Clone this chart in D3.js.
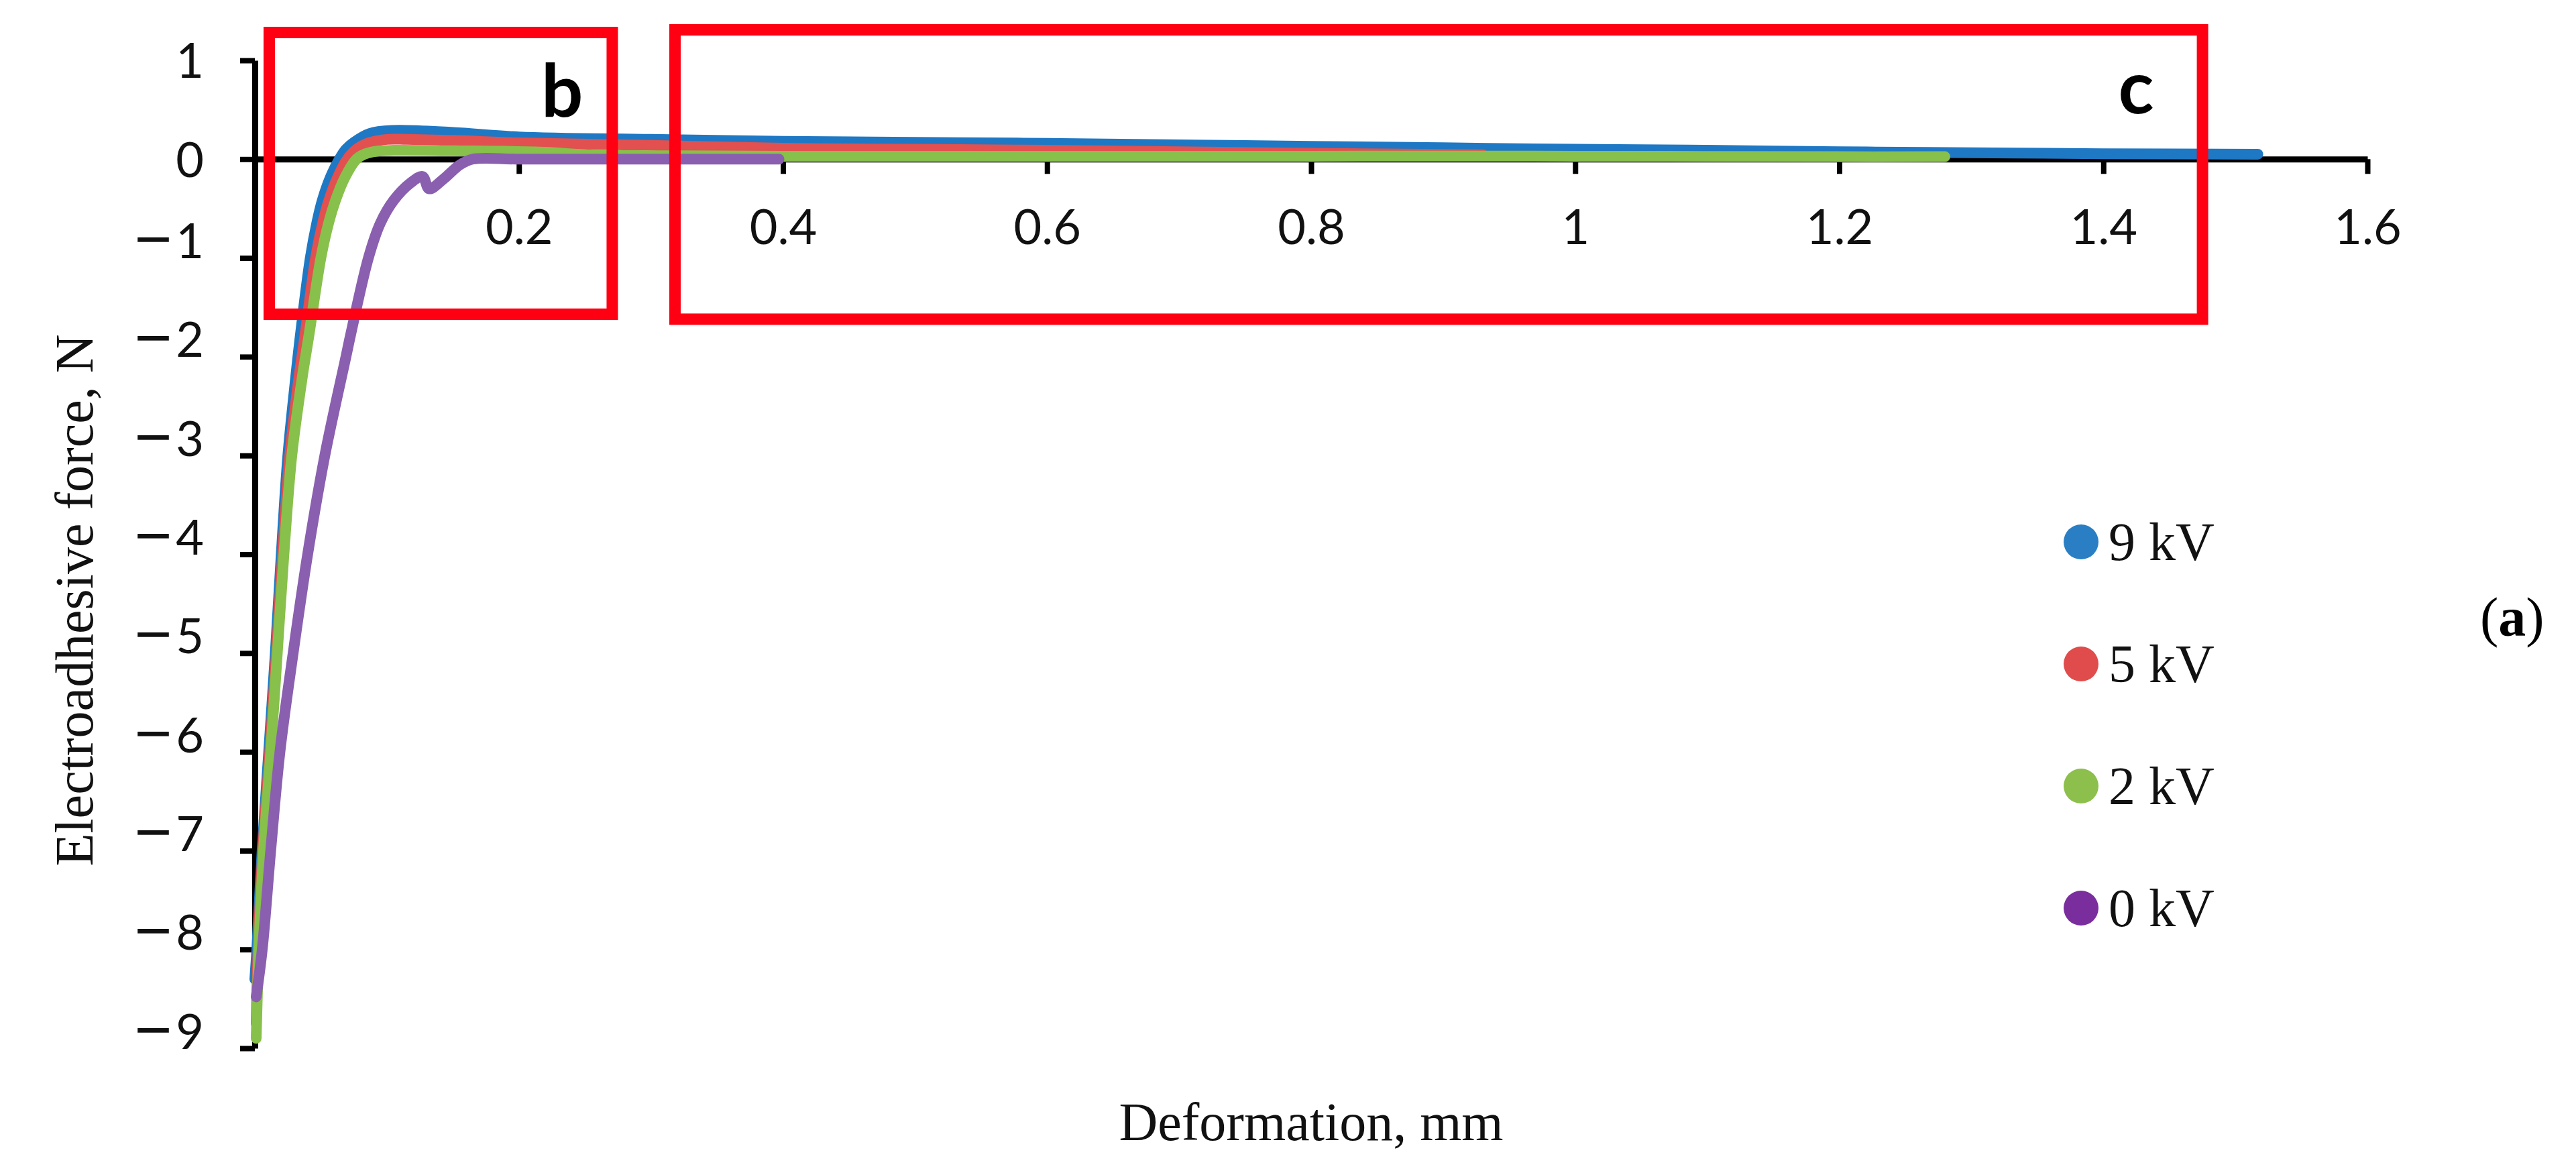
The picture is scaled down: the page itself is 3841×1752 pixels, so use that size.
<!DOCTYPE html>
<html>
<head>
<meta charset="utf-8">
<script src="https://cdn.jsdelivr.net/npm/d3@7"></script>
<style>
  html, body { margin: 0; padding: 0; background: #ffffff; }
  svg { display: block; }
</style>
</head>
<body>
<script>
// ---------------- DATA ----------------
const seriesNames = ["9 kV", "5 kV", "2 kV", "0 kV"];
const xTicks = [0.2, 0.4, 0.6, 0.8, 1, 1.2, 1.4, 1.6];
const yTicks = [1, 0, -1, -2, -3, -4, -5, -6, -7, -8, -9];

// 9 kV
const def9   = [0.000, 0.0015, 0.0055, 0.0105, 0.0155, 0.020, 0.025, 0.031, 0.0345, 0.042, 0.047, 0.051, 0.057, 0.064, 0.069, 0.075, 0.087, 0.104, 0.150, 0.200, 0.300, 0.400, 0.500, 0.600, 0.700, 0.800, 0.900, 1.000, 1.100, 1.200, 1.300, 1.400, 1.517];
const force9 = [-8.30, -8.00, -7.00, -6.00, -5.00, -4.00, -3.00, -2.20, -1.78, -1.00, -0.64, -0.42, -0.19, 0.00, 0.10, 0.17, 0.26, 0.29, 0.27, 0.225, 0.20, 0.18, 0.17, 0.16, 0.145, 0.13, 0.115, 0.10, 0.09, 0.075, 0.065, 0.055, 0.05];
// 5 kV
const def5   = [0.001, 0.0025, 0.006, 0.0113, 0.0163, 0.021, 0.0265, 0.0335, 0.038, 0.046, 0.0515, 0.056, 0.0625, 0.070, 0.077, 0.085, 0.100, 0.115, 0.150, 0.200, 0.300, 0.400, 0.500, 0.600, 0.700, 0.800, 0.930];
const force5 = [-8.75, -8.00, -7.00, -6.00, -5.00, -4.00, -3.00, -2.20, -1.78, -1.00, -0.64, -0.42, -0.19, 0.00, 0.10, 0.16, 0.20, 0.20, 0.19, 0.165, 0.14, 0.11, 0.10, 0.09, 0.075, 0.06, 0.045];
// 2 kV
const def2   = [0.001, 0.003, 0.0066, 0.012, 0.017, 0.022, 0.028, 0.036, 0.041, 0.050, 0.056, 0.061, 0.068, 0.077, 0.083, 0.092, 0.105, 0.150, 0.220, 0.250, 0.300, 0.400, 0.600, 0.800, 1.000, 1.200, 1.280];
const force2 = [-8.90, -8.00, -7.00, -6.00, -5.00, -4.00, -3.00, -2.20, -1.78, -1.00, -0.64, -0.42, -0.19, 0.00, 0.05, 0.08, 0.09, 0.085, 0.07, 0.045, 0.035, 0.03, 0.03, 0.03, 0.03, 0.025, 0.025];
// 0 kV
const def0   = [0.001, 0.0056, 0.012, 0.019, 0.029, 0.040, 0.053, 0.069, 0.0725, 0.086, 0.095, 0.105, 0.118, 0.127, 0.132, 0.143, 0.155, 0.165, 0.200, 0.300, 0.397];
const force0 = [-8.48, -8.00, -7.00, -6.00, -5.00, -4.00, -3.00, -2.00, -1.78, -1.00, -0.65, -0.42, -0.24, -0.175, -0.30, -0.20, -0.06, 0.00, 0.00, 0.00, 0.00];

// annotation regions (data units) and their labels
const boxLabels = ["b", "c"];
const boxX0 = [0.0109, 0.3182];
const boxX1 = [0.2707, 1.4751];
const boxY0 = [1.282, 1.309];
const boxY1 = [-1.570, -1.620];
const boxLabelX = [0.2327, 1.4248];
const boxLabelY = [0.43, 0.464];

// ---------------- STYLE ----------------
const lineColors   = ["#1f78c4", "#e2504f", "#87c04a", "#8a5fb0"];
const legendColors = ["#2a7fc4", "#e04c4c", "#8cbf4b", "#7a2e9e"];
const W = 3841, H = 1752;
const tickFont = "Lato, 'Open Sans', 'DejaVu Sans', sans-serif";
const serif = "'Liberation Serif', 'DejaVu Serif', serif";

const svg = d3.select("body").append("svg").attr("width", W).attr("height", H);
svg.append("rect").attr("width", W).attr("height", H).attr("fill", "#ffffff");

const x = d3.scaleLinear().domain([0, 1.6]).range([380, 3530]);
const y = d3.scaleLinear().domain([-9, 1]).range([1563, 90]);

// ---------------- AXES ----------------
const gx = svg.append("g")
  .attr("transform", `translate(0,${y(0)})`)
  .call(d3.axisBottom(x).tickValues(xTicks).tickSizeInner(22).tickSizeOuter(0).tickFormat(d => String(d)));
gx.attr("font-family", tickFont).attr("font-size", 72);
gx.select(".domain").attr("stroke", "#000").attr("stroke-width", 9);
gx.selectAll(".tick line").attr("stroke", "#000").attr("stroke-width", 8);
gx.selectAll(".tick text").attr("y", 127).attr("dy", null).attr("fill", "#111");

const gy = svg.append("g")
  .attr("transform", `translate(${x(0)},0)`)
  .call(d3.axisLeft(y).tickValues(yTicks).tickSizeInner(22).tickSizeOuter(0).tickPadding(54));
gy.attr("font-family", tickFont).attr("font-size", 72);
gy.select(".domain").attr("stroke", "#000").attr("stroke-width", 9);
gy.selectAll(".tick line").attr("stroke", "#000").attr("stroke-width", 8);
gy.selectAll(".tick text").each(function(d) {
  const t = d3.select(this);
  t.text(null).attr("dy", "0.36em").attr("fill", "#111");
  if (d < 0) {
    t.append("tspan").attr("font-family", "'Liberation Sans', sans-serif")
      .attr("font-size", 96).attr("font-weight", 300).attr("dy", 4).text("\u2212");
    t.append("tspan").attr("dy", -4).attr("dx", 6).text(String(Math.abs(d)));
  } else {
    t.append("tspan").text(String(d));
  }
});

// ---------------- SERIES ----------------
const series = [
  { name: seriesNames[0], xs: def9, ys: force9 },
  { name: seriesNames[1], xs: def5, ys: force5 },
  { name: seriesNames[2], xs: def2, ys: force2 },
  { name: seriesNames[3], xs: def0, ys: force0 }
];
const line = d3.line().x(d => x(d[0])).y(d => y(d[1])).curve(d3.curveCatmullRom.alpha(0.5));
svg.append("g").selectAll("path.series")
  .data(series)
  .join("path")
  .attr("class", "series")
  .attr("d", s => line(s.xs.map((v, i) => [v, s.ys[i]])))
  .attr("fill", "none")
  .attr("stroke", (s, i) => lineColors[i])
  .attr("stroke-width", 16)
  .attr("stroke-linecap", "round")
  .attr("stroke-linejoin", "round");

// ---------------- ANNOTATION BOXES ----------------
const gb = svg.append("g");
boxLabels.forEach((lab, i) => {
  gb.append("rect")
    .attr("x", x(boxX0[i])).attr("y", y(boxY0[i]))
    .attr("width", x(boxX1[i]) - x(boxX0[i]))
    .attr("height", y(boxY1[i]) - y(boxY0[i]))
    .attr("fill", "none").attr("stroke", "#ff0013").attr("stroke-width", 17);
  gb.append("text")
    .attr("x", x(boxLabelX[i])).attr("y", y(boxLabelY[i]))
    .attr("text-anchor", "middle")
    .attr("font-family", tickFont).attr("font-weight", 700).attr("font-size", 110)
    .attr("fill", "#000").text(lab);
});

// ---------------- LEGEND ----------------
const lg = svg.append("g");
seriesNames.forEach((n, i) => {
  const cy = 808 + i * 182;
  lg.append("circle").attr("cx", 3103).attr("cy", cy).attr("r", 26).attr("fill", legendColors[i]);
  lg.append("text").attr("x", 3144).attr("y", cy + 27)
    .attr("font-family", serif).attr("font-size", 80).attr("fill", "#111").text(n);
});

// panel tag
const tag = svg.append("text").attr("x", 3698).attr("y", 948)
  .attr("font-family", serif).attr("font-size", 82).attr("fill", "#000");
tag.append("tspan").text("(");
tag.append("tspan").attr("font-weight", 700).text("a");
tag.append("tspan").text(")");

// ---------------- AXIS TITLES ----------------
svg.append("text")
  .attr("transform", "translate(138,895) rotate(-90)")
  .attr("text-anchor", "middle")
  .attr("font-family", serif).attr("font-size", 80).attr("fill", "#111")
  .text("Electroadhesive force, N");

svg.append("text")
  .attr("x", 1955).attr("y", 1700)
  .attr("text-anchor", "middle")
  .attr("font-family", serif).attr("font-size", 80).attr("fill", "#111")
  .text("Deformation, mm");
</script>
</body>
</html>
